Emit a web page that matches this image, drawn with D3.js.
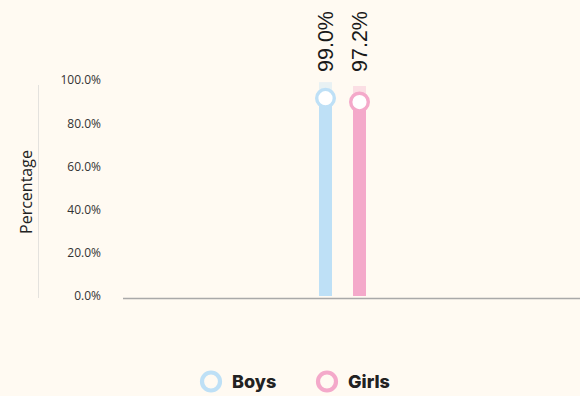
<!DOCTYPE html>
<html>
<head>
<meta charset="utf-8">
<script src="https://cdn.jsdelivr.net/npm/d3@7"></script>
<style>
  html, body { margin: 0; padding: 0; background: #fffaf2; }
  svg { display: block; }
</style>
</head>
<body>
<svg id="chart" width="580" height="396"></svg>
<script>
// Share of pupils, by sex
const groups = ["Total"];
const seriesNames = ["Boys", "Girls"];
const seriesValues = [99.0, 97.2];
const seriesColors = ["#bee0f6", "#f4a9ca"];
const yTicks = [0, 20, 40, 60, 80, 100];

const svg = d3.select("#chart");
const W = 580, H = 396;

const y = d3.scaleLinear().domain([0, 100]).range([296, 80]);
const x0 = d3.scaleBand().domain(groups).range([123, 562]);
const gc = x0("Total") + x0.bandwidth() / 2;
const x1 = d3.scaleBand().domain(seriesNames).range([gc - 34, gc + 34]).paddingInner(0.618).paddingOuter(0.309);

svg.append("rect").attr("width", W).attr("height", H).attr("fill", "#fffaf2");

// y axis
const yAxis = d3.axisLeft(y).tickValues(yTicks).tickFormat(d => d.toFixed(1) + "%").tickSize(0).tickPadding(0);
const gy = svg.append("g").attr("transform", "translate(101,0)").call(yAxis);
gy.select(".domain").remove();
gy.selectAll("text")
  .attr("font-family", "'Open Sans', 'Noto Sans', sans-serif")
  .attr("font-size", 12)
  .attr("fill", "#333");

svg.append("line")
  .attr("x1", 38.5).attr("x2", 38.5)
  .attr("y1", 85).attr("y2", 298)
  .attr("stroke", "#e4e2de").attr("stroke-width", 1);

svg.append("text")
  .attr("transform", "translate(31.5,192) rotate(-90)")
  .attr("text-anchor", "middle")
  .attr("font-family", "'Open Sans', 'Noto Sans', sans-serif")
  .attr("font-size", 16)
  .attr("fill", "#222")
  .text("Percentage");

// series
const data = seriesNames.map((name, i) => ({ name, value: seriesValues[i], color: seriesColors[i] }));
const bw = x1.bandwidth();
const capOffset = 16;

const g = svg.append("g");
// faint top cap of each bar
g.selectAll("rect.cap").data(data).join("rect")
  .attr("class", "cap")
  .attr("x", d => x1(d.name))
  .attr("y", d => y(d.value))
  .attr("width", bw)
  .attr("height", d => y(0) - y(d.value))
  .attr("fill", d => d.color)
  .attr("opacity", 0.35);
// solid stem up to the marker
g.selectAll("rect.stem").data(data).join("rect")
  .attr("class", "stem")
  .attr("x", d => x1(d.name))
  .attr("y", d => y(d.value) + capOffset)
  .attr("width", bw)
  .attr("height", d => y(0) - y(d.value) - capOffset)
  .attr("fill", d => d.color);

// x axis baseline
svg.append("line")
  .attr("x1", 123).attr("x2", 580)
  .attr("y1", 298.5).attr("y2", 298.5)
  .attr("stroke", "#a9a9a9").attr("stroke-width", 1.5);

// markers
g.selectAll("circle").data(data).join("circle")
  .attr("cx", d => x1(d.name) + bw / 2)
  .attr("cy", d => y(d.value) + capOffset)
  .attr("r", 8.8)
  .attr("fill", "#fff")
  .attr("stroke", d => d.color)
  .attr("stroke-width", 3.4);

// value labels
g.selectAll("text.val").data(data).join("text")
  .attr("class", "val")
  .attr("transform", d => `translate(${x1(d.name) + bw / 2 + 7.5},72) rotate(-90)`)
  .attr("font-family", "'Liberation Sans', Arial, sans-serif")
  .attr("font-size", 21.5)
  .attr("fill", "#1a1a1a")
  .text(d => d.value.toFixed(1) + "%");

// legend
const legend = svg.append("g");
const legendX = [211, 327];
data.forEach((d, i) => {
  legend.append("circle")
    .attr("cx", legendX[i]).attr("cy", 381.5)
    .attr("r", 9)
    .attr("fill", "none")
    .attr("stroke", d.color)
    .attr("stroke-width", 4.2);
  legend.append("text")
    .attr("x", legendX[i] + 21).attr("y", 388)
    .attr("font-family", "Inter, 'Noto Sans', sans-serif")
    .attr("font-weight", 800)
    .attr("font-size", 18)
    .attr("fill", "#222")
    .text(d.name);
});
</script>
</body>
</html>
